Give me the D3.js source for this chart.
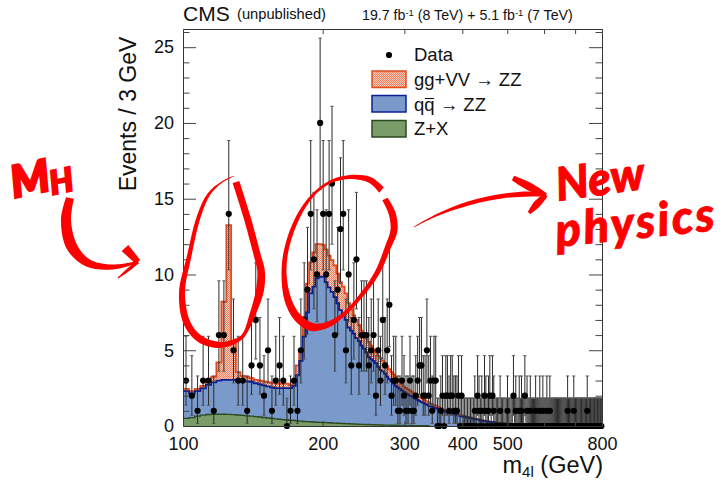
<!DOCTYPE html>
<html><head><meta charset="utf-8">
<script src="https://cdn.jsdelivr.net/npm/d3@7"></script>
<style>
html,body{margin:0;padding:0;background:#fff}
svg{display:block}
text{font-family:"Liberation Sans",Arial,sans-serif;fill:#111}
.hand{font-family:"Lato","DejaVu Sans",sans-serif;font-weight:900;font-style:italic;fill:#f00;stroke:#f00}
</style></head><body>
<svg id="c" width="722" height="481"></svg>
<script>
// Events in each 3 GeV bin, starting at 100 GeV
const dataCounts=[3,2,1,3,3,1,6,6,14,5,3,3,1,4,7,4,2,5,1,3,4,3,0,1,3,1,5,7,9,14,
11,10,20,14,10,14,16,6,9,13,14,5,10,4,7,11,4,6,6,6,4,5,6,2,5,3,7,4,5,8,
2,3,3,1,1,3,2,1,1,3,1,1,2,3,4,4,2,2,5,2,3,1,3,3,0,0,1,2,0,2,
2,1,2,2,1,1,1,2,0,2,0,0,0,0,0,0,0,0,1,0,2,1,0,1,0,2,1,0,1,2,
0,2,1,0,0,0,0,1,0,0,0,0,0,1,0,0,0,0,2,0,1,0,0,1,0,1,0,0,2,0,
1,0,0,1,0,0,0,0,1,0,0,0,1,0,0,1,0,0,0,1,0,0,1,0,0,0,0,0,0,0,
0,0,0,0,0,0,0,0,0,0,0,1,0,0,0,0,0,0,1,0,0,0,0,0,0,0,0,0,0,0,
0,0,0,0,1,0,0,0,0,0,0,0,0,0,0,0,0,0,0,0,0,0,0,0];
// Stacked histogram tops
const zxTop=[.5,.55,.65,.72,.76,.78,.78,.78,.77,.75,.73,.7,.67,.65,.62,.59,.56,.53,.5,.47,.45,.42,.4,.38,.36,.34,.32,.3,.29,.28,
.26,.25,.24,.23,.22,.21,.2,.19,.18,.17,.165,.155,.15,.14,.13,.125,.12,.11,.105,.1,.095,.09,.085,.08,.075,.07,.065,.06,.06,.055,
.05,.05,.045,.045,.04,.04,.035,.035,.03,.03,.03,.025,.025,.025,.02,.02,.02,.02,.015,.015];
const qqTop=[2.3,2.15,2.3,2.48,2.72,2.88,3,3.05,3.05,3.05,3.03,3.02,2.95,2.92,2.82,2.75,2.68,2.62,2.55,2.5,2.5,2.5,2.5,2.5,2.65,3.35,4.3,5.9,7.5,8.75,
9.2,9.75,9.85,9.85,9.5,9.15,8.85,8.5,8.1,7.65,7.3,7,6.5,6.3,6.1,5.8,5.6,5.3,5.1,4.85,4.55,4.4,4.3,4.15,3.9,3.7,3.6,3.45,3.25,3.1,
2.95,2.8,2.65,2.55,2.45,2.35,2.25,2.15,2.08,2,1.95,1.88,1.8,1.72,1.65,1.58,1.52,1.46,1.4,1.35,1.3,1.26,1.22,1.18,1.14,1.1,1.05,1,.96,.93,
.9,.87,.85,.82,.78,.75,.72,.7,.67,.64,.62,.6,.58,.56,.54,.52,.5,.48,.46,.44,.42,.4,.38,.36,.34,.33,.31,.29,.28,.27,
.26,.25,.23,.22,.21,.2,.19,.18,.17,.17,.16,.15,.14,.13,.13,.12,.11,.11,.1,.1,.09,.09,.08,.08,.07,.07,.07,.06,.06,.06,
.05,.05,.05,.04,.04,.04,.04,.03,.03,.03,.03,.03];
const ggTop=[2.45,2.3,2.45,2.65,2.92,3.25,4.2,8.2,13.25,5.5,3.55,3.3,3.25,3.15,3.05,3,2.95,2.9,2.85,2.85,2.8,2.85,2.8,2.7,3,4,5,7.2,9.4,10.8,
11.45,12,12,11.95,11.65,11.25,10.95,10.6,10.05,9.5,9.2,8.75,8.1,7.7,7.3,7,6.65,6.3,6.1,5.8,5.55,5.3,5.05,4.85,4.65,4.5,4.3,4.15,3.95,3.75,
3.55,3.4,3.25,3.1,2.95,2.8,2.6,2.5,2.42,2.35,2.25,2.15,2.08,2,1.9,1.85,1.78,1.7,1.62,1.55,1.48,1.42,1.37,1.32,1.28,1.22,1.18,1.12,1.08,1.04,
1,.97,.94,.91,.87,.84,.8,.77,.74,.71,.68,.65,.63,.6,.58,.56,.54,.52,.49,.47,.45,.43,.41,.39,.37,.35,.33,.31,.3,.29,
.28,.26,.25,.24,.22,.21,.2,.19,.18,.18,.17,.16,.15,.14,.14,.13,.12,.12,.11,.11,.1,.1,.09,.09,.08,.08,.08,.07,.07,.07,
.06,.06,.05,.05,.05,.05,.04,.04,.04,.04,.03,.03];
// Poisson interval [down, up] for a count n
const poissonDown=[0,.83,1.29,1.63,1.91,2.16,2.38,2.58,2.77,2.94,3.11,3.27,3.44,3.58,3.7,3.87,4.0,4.13,4.25,4.35,4.4];
const poissonUp=[1.84,2.3,2.64,2.92,3.16,3.38,3.58,3.77,3.95,4.11,4.27,4.42,4.57,4.7,4.84,4.97,5.1,5.22,5.35,5.47,5.6];
const xTicks=[100,200,300,400,500,600,700,800];
const xLabels=[100,200,300,400,500,800];
const yMajor=[0,5,10,15,20,25];
const yMinor=[1,2,3,4,6,7,8,9,11,12,13,14,16,17,18,19,21,22,23,24,26];
const binWidth=3, massStart=100;

const svg=d3.select("#c");
const x=d3.scaleLog().domain([100,800]).range([183,602]);
const y=d3.scaleLinear().domain([0,26.2]).range([426,29]);

const defs=svg.append("defs");
const p=defs.append("pattern").attr("id","hatch").attr("width",2).attr("height",2).attr("patternUnits","userSpaceOnUse");
p.append("rect").attr("width",2).attr("height",2).attr("fill","#fbd0c0");
p.append("rect").attr("width",1).attr("height",1).attr("fill","#ee7f5c");
p.append("rect").attr("x",1).attr("y",1).attr("width",1).attr("height",1).attr("fill","#ee7f5c");
defs.append("clipPath").attr("id","plot").append("rect").attr("x",183).attr("y",29).attr("width",419).attr("height",397);

const plot=svg.append("g").attr("clip-path","url(#plot)");
const edge=i=>massStart+binWidth*i;
function stepped(arr){return [...arr,arr[arr.length-1]].map((v,i)=>({m:edge(i),v}));}
const area=d3.area().x(d=>x(d.m)).y0(y(0)).y1(d=>y(d.v)).curve(d3.curveStepAfter);
const line=d3.line().x(d=>x(d.m)).y(d=>y(d.v)).curve(d3.curveStepAfter);
[[ggTop,"url(#hatch)","#e2491f",1.8],[qqTop,"#7a9acb","#0b1f94",1.8],[zxTop,"#7a9c68","#2c4a1f",1.4]].forEach(([a,f,s,w])=>{
  const d=stepped(a);
  plot.append("path").attr("d",area(d)).attr("fill",f);
  plot.append("path").attr("d",line(d)).attr("fill","none").attr("stroke",s).attr("stroke-width",w);
});

// data with error bars
const points=dataCounts.map((n,i)=>({m:edge(i)+binWidth/2,n,lo:n-poissonDown[n],hi:n+poissonUp[n]})).filter(d=>d.m<800);
const eb=plot.append("g").attr("stroke","#2a2a2a").attr("stroke-width",1).attr("fill","none");
eb.selectAll("line.v").data(points).join("line").attr("class","v").attr("x1",d=>x(d.m)).attr("x2",d=>x(d.m)).attr("y1",d=>y(d.lo)).attr("y2",d=>y(d.hi));
eb.selectAll("line.t").data(points).join("line").attr("class","t").attr("x1",d=>x(d.m)-1.6).attr("x2",d=>x(d.m)+1.6).attr("y1",d=>y(d.hi)).attr("y2",d=>y(d.hi)).attr("stroke","#555");
eb.selectAll("line.b").data(points.filter(d=>d.n>0)).join("line").attr("class","b").attr("x1",d=>x(d.m)-1.6).attr("x2",d=>x(d.m)+1.6).attr("y1",d=>y(d.lo)).attr("y2",d=>y(d.lo)).attr("stroke","#555");
svg.append("g").selectAll("circle").data(points).join("circle").attr("cx",d=>x(d.m)).attr("cy",d=>y(d.n)).attr("r",3.1).attr("fill","#000");

// frame and axes
function styleAxis(g){g.select(".domain").attr("stroke","#333").attr("stroke-width",1);g.selectAll(".tick line").attr("stroke","#444");
  g.selectAll("text").style("font-size","18px").attr("fill","#111");return g;}
styleAxis(svg.append("g").attr("transform","translate(183,0)").call(d3.axisLeft(y).tickValues(yMajor).tickSize(-13).tickPadding(9).tickSizeOuter(0)));
svg.append("g").attr("transform","translate(183,0)").call(d3.axisLeft(y).tickValues(yMinor).tickSize(-6.5).tickFormat("").tickSizeOuter(0)).call(g=>{g.select(".domain").remove();g.selectAll(".tick line").attr("stroke","#444");});
styleAxis(svg.append("g").attr("transform","translate(602,0)").call(d3.axisRight(y).tickValues(yMajor).tickSize(-13).tickFormat("").tickSizeOuter(0)));
svg.append("g").attr("transform","translate(602,0)").call(d3.axisRight(y).tickValues(yMinor).tickSize(-6.5).tickFormat("").tickSizeOuter(0)).call(g=>{g.select(".domain").remove();g.selectAll(".tick line").attr("stroke","#444");});
styleAxis(svg.append("g").attr("transform","translate(0,426)").call(d3.axisBottom(x).tickValues(xTicks).tickSize(-5).tickPadding(11).tickSizeOuter(0).tickFormat(d=>xLabels.includes(d)?d:"")));
styleAxis(svg.append("g").attr("transform","translate(0,29)").call(d3.axisTop(x).tickValues(xTicks).tickSize(-5).tickFormat("").tickSizeOuter(0)));

// titles
const T=(px,py,s,fs,a)=>svg.append("text").attr("x",px).attr("y",py).attr("font-size",fs).attr("text-anchor",a||"start").text(s);
T(183,21,"CMS",21);
T(237,19,"(unpublished)",14.7);
const lumi=svg.append("text").attr("x",362).attr("y",20).attr("font-size",14.2);
lumi.append("tspan").text("19.7 fb");
lumi.append("tspan").attr("dy",-4.5).attr("font-size",9.5).text("-1");
lumi.append("tspan").attr("dy",4.5).text(" (8 TeV) + 5.1 fb");
lumi.append("tspan").attr("dy",-4.5).attr("font-size",9.5).text("-1");
lumi.append("tspan").attr("dy",4.5).text(" (7 TeV)");
svg.append("text").attr("transform","translate(136,114) rotate(-90)").attr("text-anchor","middle").attr("font-size",23).text("Events / 3 GeV");
const xt=svg.append("text").attr("x",603).attr("y",473).attr("text-anchor","end").attr("font-size",23.5);
xt.append("tspan").text("m");
xt.append("tspan").attr("dy",4).attr("font-size",15).text("4l");
xt.append("tspan").attr("dy",-4).text(" (GeV)");

// legend
svg.append("circle").attr("cx",389).attr("cy",55).attr("r",3.1).attr("fill","#000");
T(414,61,"Data",18.5);
[[71,"url(#hatch)","#e2491f"],[95.5,"#7a9acb","#0b1f94"],[120.5,"#7a9c68","#2c4a1f"]].forEach(([yy,f,s])=>
  svg.append("rect").attr("x",372).attr("y",yy).attr("width",34).attr("height",16.5).attr("fill",f).attr("stroke",s).attr("stroke-width",1.5));
T(414,86,"gg+VV → ZZ",18.5);
const q=T(414,111,"qq → ZZ",18.5);
const qw=q.node().getSubStringLength(0,1);
svg.append("line").attr("x1",414+qw+.5).attr("x2",414+2*qw-.5).attr("y1",98.5).attr("y2",98.5).attr("stroke","#111").attr("stroke-width",1.1);
T(414,135,"Z+X",18.5);

// hand-drawn red annotations
function brush(pts){
  const L=[],R=[];
  pts.forEach((p,i)=>{
    const a=pts[Math.max(0,i-1)],b=pts[Math.min(pts.length-1,i+1)];
    const dx=b[0]-a[0],dy=b[1]-a[1],l=Math.hypot(dx,dy)||1,w=p[2]/2;
    L.push([p[0]-dy/l*w,p[1]+dx/l*w]);R.push([p[0]+dy/l*w,p[1]-dx/l*w]);
  });
  const ln=d3.line().curve(d3.curveCatmullRom.alpha(.5));
  return ln(L)+"L"+ln(R.reverse()).slice(1)+"Z";
}
const strokes=[
 [[234,176,.5],[222,182,1.5],[209,194,3],[199,216,4],[189,257,4.5],[182,293,6],[187,323,7],[200,339,7],[220,345,6],[233,342,5],[243,336,3.5],[253,313,6],[260,290,8],[261,270,7.5],[258,258,7],[247,217,7],[236,182,7]],
 [[381.5,190,7],[370,180,6],[350,177,4],[330,182,3],[313,195,3],[298,217,4],[287,247,4.5],[284,273,5],[288,300,7],[298,318,8],[312,327,8],[327,325,6],[343,315,4],[360,297,4],[377,273,5],[388,247,6],[394,230,7],[392,213,7],[385,199,6]],
 [[414,227,.5],[437,215,2],[470,203,4],[503,196,4.5],[530,194,5],[544,195,3]],
 [[513,178,5],[530,187,8],[546,195,4]],
 [[546,195,4],[537,204,7],[529,213,3]],
 [[70,198,8],[66,220,10],[72,247,11],[88,263,8],[113,267,5],[138,262,2]],
 [[125,248,9],[138,262,6]],
 [[138,262,3],[128,270,3],[118,278,1]]
];
svg.append("g").attr("fill","#f00").selectAll("path").data(strokes).join("path").attr("d",brush);
const hand=(s,px,py,fs,rot,sw,ls)=>svg.append("text").attr("class","hand").attr("transform",`translate(${px},${py}) rotate(${rot})`).attr("font-size",fs).attr("stroke-width",sw).attr("letter-spacing",ls||0).text(s);
hand("M",14,198,44,-12,2.5);
hand("H",52,195,33,-12,2);
hand("New",558,201,46,-8,1);
hand("physics",557,247,47,-6,.8,2.5);
</script>
</body></html>
